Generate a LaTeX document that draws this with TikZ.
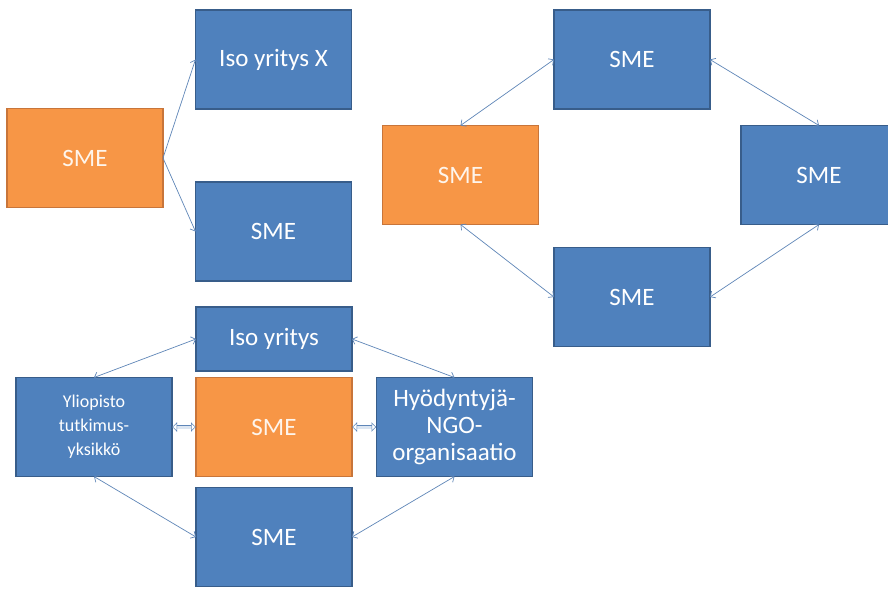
\documentclass[tikz,border=0pt]{standalone}
\usepackage{fontspec}
\setmainfont{Carlito}
\usetikzlibrary{arrows.meta}

\definecolor{smeblue}{HTML}{4F81BD}
\definecolor{smeblueedge}{HTML}{385D8A}
\definecolor{smeorange}{HTML}{F79646}
\definecolor{smeorangeedge}{HTML}{C8753A}
\definecolor{linkcol}{HTML}{5F86B8}
\definecolor{linkfill}{HTML}{DCE6F2}

\begin{document}
\begin{tikzpicture}[x=1pt,y=-1pt,inner sep=0pt,outer sep=0pt,
>={Straight Barb[length=4pt,width=8pt]},
blueblock/.style={draw=smeblueedge,fill=smeblue,line width=1.2pt,rectangle,minimum width=156pt,minimum height=99pt,
  text=white,align=center,font=\fontsize{25}{27}\selectfont},
orangeblock/.style={blueblock,draw=smeorangeedge,fill=smeorange,text=white!90!smeorange},
relation/.style={draw=linkcol,line width=0.7pt,<->},
fatrelation/.style={draw=linkcol,line width=0.5pt,double=linkfill,double distance=3pt,
  {Latex[open,length=5pt,width=10pt]}-{Latex[open,length=5pt,width=10pt]}}]

\clip (0,0) rectangle (888,590);
\fill[white] (0,0) rectangle (888,590);

% one SME, two partners
\draw (85,158) node[orangeblock] (sme1) {SME};
\draw (273.5,59.5) node[blueblock] (iso1) {Iso yritys X};
\draw (273.5,231.5) node[blueblock] (sme2) {SME};
\draw[draw=linkcol,line width=0.7pt,->] (sme1.east) -- (iso1.west);
\draw[draw=linkcol,line width=0.7pt,->] (sme1.east) -- (sme2.west);

% ring of SMEs
\draw (460.5,175) node[orangeblock] (ring1) {SME};
\draw (632,59.5) node[blueblock] (ring2) {SME};
\draw (819,175) node[blueblock] (ring3) {SME};
\draw (632,297) node[blueblock] (ring4) {SME};
\draw[relation] (ring1.north) -- (ring2.west);
\draw[relation] (ring2.east) -- (ring3.north);
\draw[relation] (ring1.south) -- (ring4.west);
\draw[relation] (ring3.south) -- (ring4.east);

% network round one SME
\draw (274,339) node[blueblock,minimum height=64pt] (big) {Iso yritys};
\draw (94,427) node[blueblock,font=\fontsize{18}{24}\selectfont] (uni) {Yliopisto\\tutkimus-\\yksikkö};
\draw (274,427) node[orangeblock] (hub) {SME};
\draw (454.5,427) node[blueblock] (ngo) {Hyödyntyjä-\\NGO-\\organisaatio};
\draw (274,537) node[blueblock] (sme3) {SME};
\draw[relation] (uni.north) -- (big.west);
\draw[relation] (big.east) -- (ngo.north);
\draw[relation] (uni.south) -- (sme3.west);
\draw[relation] (ngo.south) -- (sme3.east);
\draw[fatrelation] (uni.east) -- (hub.west);
\draw[fatrelation] (hub.east) -- (ngo.west);
\end{tikzpicture}
\end{document}
